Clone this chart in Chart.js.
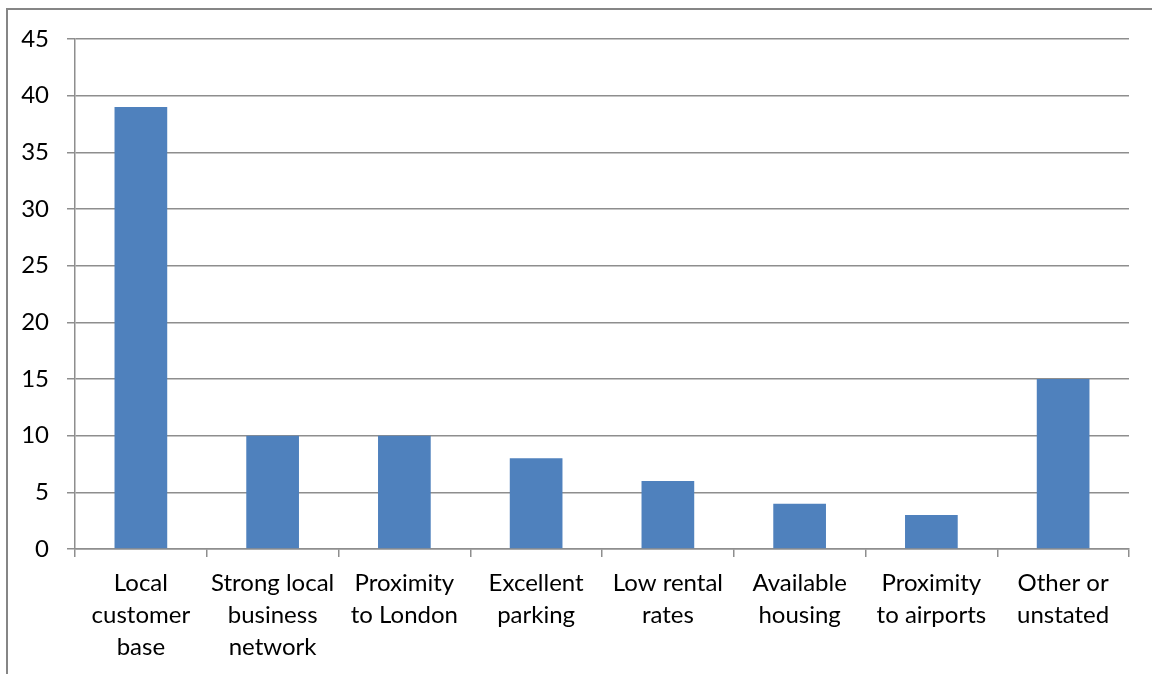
<!DOCTYPE html>
<html>
<head>
<meta charset="utf-8">
<script src="https://cdn.jsdelivr.net/npm/chart.js@4/dist/chart.umd.min.js"></script>
<style>
  html, body { margin: 0; padding: 0; background: #fff; }
  #wrap { position: relative; width: 1152px; height: 674px; overflow: hidden; }
  #frame { position: absolute; left: 6px; top: 8px; width: 1200px; height: 700px;
           border-left: 2px solid #868686; border-top: 2px solid #868686; }
  canvas { position: absolute; left: 0; top: 0; }
</style>
</head>
<body>
<div id="wrap">
  <div id="frame"></div>
  <canvas id="chart" width="1152" height="674"></canvas>
</div>
<script>
// reasons for location (counts)
const categories = [
  ['Local', 'customer', 'base'],
  ['Strong local', 'business', 'network'],
  ['Proximity', 'to London'],
  ['Excellent', 'parking'],
  ['Low rental', 'rates'],
  ['Available', 'housing'],
  ['Proximity', 'to airports'],
  ['Other or', 'unstated']
];
const counts = [39, 10, 10, 8, 6, 4, 3, 15];
const yTicks = [0, 5, 10, 15, 20, 25, 30, 35, 40, 45];

const gridColor = '#8e8e8e';
const labelFont = { family: 'Lato, "Open Sans", sans-serif', size: 24 };

new Chart(document.getElementById('chart'), {
  type: 'bar',
  data: {
    labels: categories,
    datasets: [{
      data: counts,
      backgroundColor: '#4f81bd',
      barPercentage: 0.4,
      categoryPercentage: 1.0
    }]
  },
  options: {
    responsive: false,
    animation: false,
    layout: { padding: { top: 39, right: 23, left: 0, bottom: 0 } },
    plugins: { legend: { display: false }, tooltip: { enabled: false } },
    scales: {
      x: {
        afterFit: s => { s.height = 125; },
        grid: { offset: true, drawOnChartArea: false, drawTicks: true, tickLength: 8, color: gridColor, lineWidth: 1.5 },
        border: { color: gridColor, width: 1.5 },
        ticks: { color: '#000', font: { ...labelFont, lineHeight: 1.333 }, padding: 10, maxRotation: 0, autoSkip: false }
      },
      y: {
        min: 0, max: 45,
        afterFit: s => { s.width = 75; },
        afterBuildTicks: s => { s.ticks = yTicks.map(v => ({ value: v })); },
        grid: { color: gridColor, lineWidth: 1.5, drawTicks: true, tickLength: 8 },
        border: { color: gridColor, width: 1.5 },
        ticks: { color: '#000', font: labelFont, padding: 18 }
      }
    }
  }
});
</script>
</body>
</html>
